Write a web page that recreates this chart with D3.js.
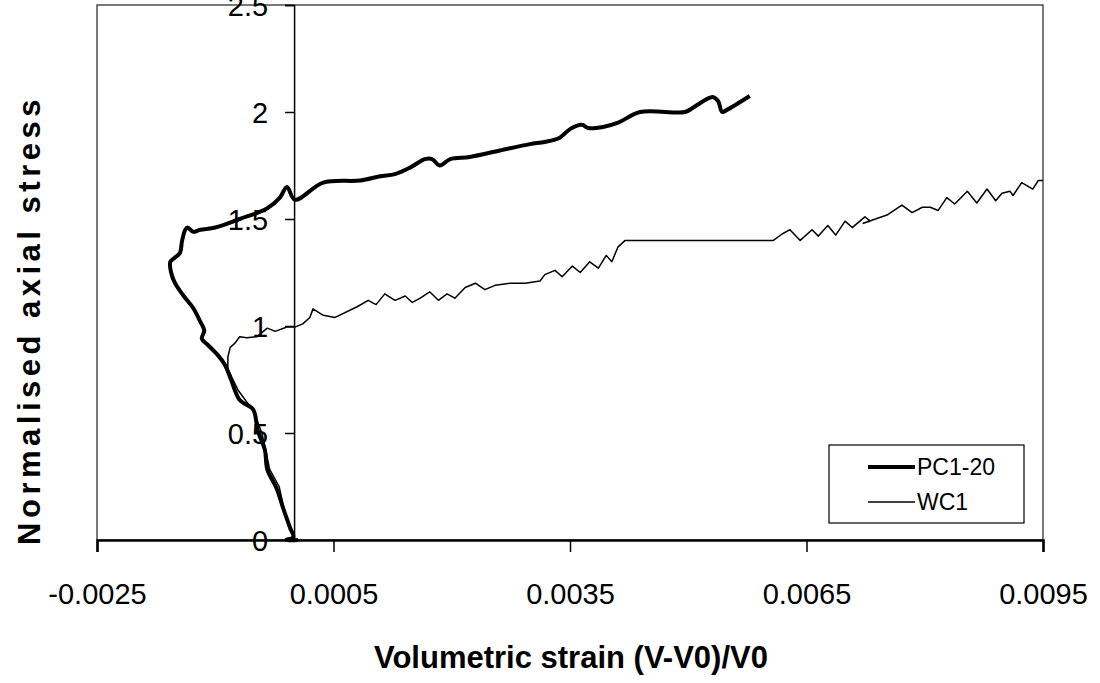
<!DOCTYPE html>
<html>
<head>
<meta charset="utf-8">
<script src="https://cdn.jsdelivr.net/npm/d3@7"></script>
<style>
  body { margin: 0; background: #fff; }
  svg text { font-family: 'Liberation Sans', Arial, sans-serif; fill: #000; }
</style>
</head>
<body>
<svg id="chart" width="1100" height="683"></svg>
<script>
// data: volumetric strain vs normalised axial stress
const pcStrain = [0.00005, -0.0001, -0.00001, -0.00005, -0.00014, -0.00022, -0.00034, -0.00037, -0.00046, -0.00052,
  -0.00069, -0.00081, -0.00088, -0.00097, -0.00109, -0.00117, -0.00114, -0.00119, -0.00128, -0.00141,
  -0.00151, -0.00156, -0.00157, -0.00151, -0.00145, -0.00142, -0.00138, -0.00135, -0.00128, -0.00119,
  -0.001, -0.00069, -0.00034, -0.00018, -0.00009, 0.00001, 0.00037, 0.00084, 0.00109, 0.00128,
  0.00147, 0.00166, 0.00175, 0.00185, 0.00198, 0.00223, 0.00261, 0.00299, 0.00318, 0.00337,
  0.0035, 0.00365, 0.00373, 0.00392, 0.00411, 0.00439, 0.00496, 0.00506, 0.00531, 0.00538,
  0.00543, 0.00549, 0.00578];
const pcStress = [0, 0, 0.014, 0.056, 0.15, 0.24, 0.33, 0.42, 0.51, 0.61,
  0.654, 0.76, 0.82, 0.865, 0.91, 0.94, 0.98, 1.02, 1.084, 1.145,
  1.2, 1.25, 1.3, 1.32, 1.34, 1.4, 1.45, 1.46, 1.44, 1.45,
  1.46, 1.5, 1.55, 1.6, 1.65, 1.59, 1.67, 1.68, 1.7, 1.71,
  1.74, 1.78, 1.78, 1.75, 1.78, 1.79, 1.82, 1.85, 1.86, 1.88,
  1.92, 1.94, 1.925, 1.93, 1.95, 2.0, 2.0, 2.02, 2.07, 2.05,
  2.0, 2.01, 2.075];

const wcStrain = [0.00001, -0.00005, -0.00013, -0.00019, -0.00031, -0.00036, -0.00041, -0.00051, -0.00071, -0.00079,
  -0.00084, -0.00084, -0.00081, -0.00075, -0.00069, -0.0006, -0.00047, -0.00034, -0.00024, -0.00009,
  0.00001, 0.00011, 0.0002, 0.00024, 0.00037, 0.00052, 0.0008, 0.00094, 0.00104, 0.00115,
  0.00128, 0.00141, 0.0015, 0.0016, 0.00172, 0.00183, 0.00194, 0.00204, 0.00217, 0.0023,
  0.00242, 0.00255, 0.00274, 0.00293, 0.00312, 0.00318, 0.00331, 0.0034, 0.00353, 0.00363,
  0.00375, 0.00386, 0.00396, 0.00403, 0.00411, 0.0042, 0.00608, 0.00619, 0.00629, 0.00642,
  0.00657, 0.00665, 0.00677, 0.00687, 0.00699, 0.00708, 0.00724, 0.00731, 0.00722, 0.00753,
  0.00771, 0.00784, 0.00797, 0.00807, 0.00817, 0.00828, 0.00838, 0.00854, 0.00866, 0.00879,
  0.0089, 0.00898, 0.00908, 0.00912, 0.00923, 0.00937, 0.00944, 0.0095];
const wcStress = [0, 0.05, 0.15, 0.25, 0.33, 0.42, 0.5, 0.6, 0.7, 0.76,
  0.8, 0.855, 0.9, 0.92, 0.95, 0.945, 0.95, 0.99, 0.975, 0.995,
  0.995, 1.01, 1.04, 1.08, 1.05, 1.04, 1.09, 1.12, 1.1, 1.15,
  1.12, 1.14, 1.11, 1.13, 1.16, 1.12, 1.15, 1.13, 1.18, 1.2,
  1.17, 1.19, 1.2, 1.2, 1.21, 1.24, 1.26, 1.23, 1.28, 1.25,
  1.3, 1.27, 1.33, 1.3, 1.37, 1.4, 1.4, 1.43, 1.45, 1.4,
  1.45, 1.42, 1.47, 1.425, 1.49, 1.46, 1.51, 1.49, 1.48, 1.52,
  1.565, 1.53, 1.555, 1.555, 1.54, 1.6, 1.57, 1.63, 1.575, 1.64,
  1.585, 1.62, 1.63, 1.61, 1.67, 1.64, 1.68, 1.68];

const xTicks = [-0.0025, 0.0005, 0.0035, 0.0065, 0.0095];
const yTicks = [0, 0.5, 1, 1.5, 2, 2.5];
const seriesNames = ['PC1-20', 'WC1'];

const svg = d3.select('#chart');

// plot area box
const plot = { left: 97, right: 1043, top: 5, bottom: 540 };

const x = d3.scaleLinear().domain([-0.0025, 0.0095]).range([plot.left, plot.right]);
const y = d3.scaleLinear().domain([0, 2.5]).range([plot.bottom, plot.top]);

// border round the plot area
svg.append('rect')
  .attr('x', plot.left)
  .attr('y', plot.top)
  .attr('width', plot.right - plot.left)
  .attr('height', plot.bottom - plot.top)
  .attr('fill', 'none')
  .attr('stroke', '#222')
  .attr('stroke-width', 1.2);

// plain hyphen for negatives, like the original
const fmtX = d => d3.format('.4f')(d).replace('\u2212', '-');

// x axis sits on stress = 0
const xAxis = svg.append('g')
  .attr('transform', `translate(0,${y(0)})`)
  .call(d3.axisBottom(x).tickValues(xTicks).tickSize(12).tickFormat(fmtX));
xAxis.select('.domain').attr('stroke', '#000').attr('stroke-width', 2.5);
xAxis.selectAll('.tick line').attr('stroke', '#000').attr('stroke-width', 1.5);
xAxis.selectAll('.tick text')
  .attr('y', 64)
  .attr('dy', 0)
  .style('font-size', '29px');

// y axis sits on strain = 0
const yAxis = svg.append('g')
  .attr('transform', `translate(${x(0)},0)`)
  .call(d3.axisLeft(y).tickValues(yTicks).tickSize(9).tickFormat(d3.format('')));
yAxis.select('.domain').attr('stroke', '#000').attr('stroke-width', 1.5);
yAxis.selectAll('.tick line').attr('stroke', '#000').attr('stroke-width', 1.5);
yAxis.selectAll('.tick text')
  .attr('x', -26)
  .attr('dy', '0.35em')
  .style('font-size', '29px');

// series lines
const line = d3.line()
  .x(d => x(d[0]))
  .y(d => y(d[1]));

const pcData = d3.zip(pcStrain, pcStress);
const wcData = d3.zip(wcStrain, wcStress);

svg.append('path')
  .datum(wcData)
  .attr('d', line)
  .attr('fill', 'none')
  .attr('stroke', '#000')
  .attr('stroke-width', 1.5)
  .attr('stroke-linejoin', 'round');

// thick curve is a bit smoother in the original
svg.append('path')
  .datum(pcData)
  .attr('d', line.curve(d3.curveCatmullRom.alpha(0.5)))
  .attr('fill', 'none')
  .attr('stroke', '#000')
  .attr('stroke-width', 4)
  .attr('stroke-linejoin', 'round');

// axis titles
svg.append('text')
  .attr('x', 571)
  .attr('y', 668)
  .attr('text-anchor', 'middle')
  .style('font-size', '31px')
  .style('font-weight', 'bold')
  .text('Volumetric strain (V-V0)/V0');

svg.append('text')
  .attr('transform', 'translate(40,320) rotate(-90)')
  .attr('text-anchor', 'middle')
  .style('font-size', '31px')
  .style('font-weight', 'bold')
  .style('letter-spacing', '4.5px')
  .text('Normalised axial stress');

// legend box
const legend = svg.append('g').attr('transform', 'translate(829,445)');
legend.append('rect')
  .attr('width', 195)
  .attr('height', 78)
  .attr('fill', '#fff')
  .attr('stroke', '#000')
  .attr('stroke-width', 1.2);

const legendWidths = [4, 1.5];
seriesNames.forEach(function (name, i) {
  const ly = 22 + i * 35;
  legend.append('line')
    .attr('x1', 39).attr('x2', 86)
    .attr('y1', ly).attr('y2', ly)
    .attr('stroke', '#000')
    .attr('stroke-width', legendWidths[i]);
  legend.append('text')
    .attr('x', 88)
    .attr('y', ly + 8)
    .style('font-size', '23px')
    .text(name);
});
</script>
</body>
</html>
